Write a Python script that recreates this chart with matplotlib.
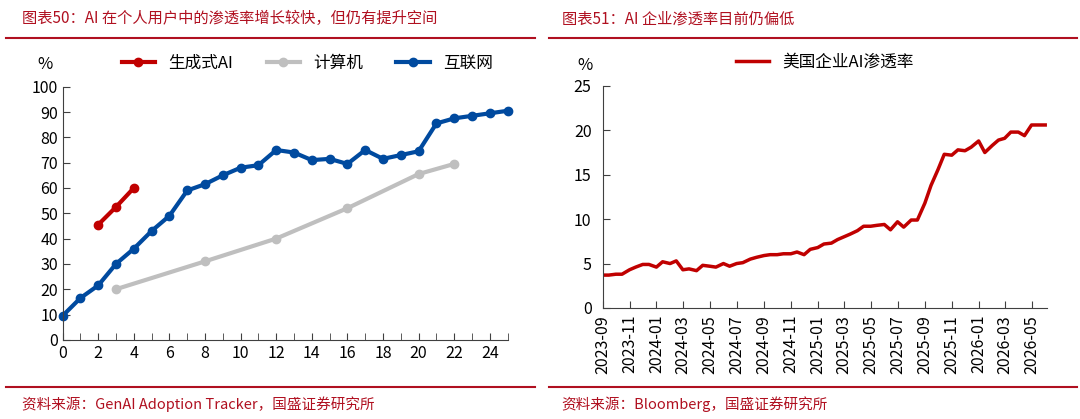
import numpy as np
import pandas as pd
import matplotlib
matplotlib.use("Agg")
import matplotlib.pyplot as plt
import matplotlib.dates as mdates

plt.rcParams['font.family'] = ['Noto Sans CJK SC', 'DejaVu Sans']
plt.rcParams['axes.unicode_minus'] = False

# 左图：个人用户渗透率（%），横轴为推出后年数
genai_x = [2, 3, 4]
genai_y = [45.5, 52.5, 60]
pc_x = [3, 8, 12, 16, 20, 22]
pc_y = [20, 31, 40, 52, 65.5, 69.5]
net_x = list(range(26))
net_y = [9.5, 16.5, 21.5, 30, 36, 43, 49, 59, 61.5, 65, 68, 69, 75, 74, 71,
         71.5, 69.5, 75, 71.5, 73, 74.5, 85.5, 87.5, 88.5, 89.5, 90.5]

# 右图：美国企业AI渗透率（%），半月频
ent_y = [3.7, 3.7, 3.8, 3.8, 4.3, 4.6, 4.9, 4.9, 4.6, 5.2, 5.0, 5.3, 4.3, 4.4,
         4.2, 4.8, 4.7, 4.6, 5.0, 4.7, 5.0, 5.1, 5.5, 5.7, 5.9, 6.0, 6.0, 6.1,
         6.1, 6.3, 6.0, 6.6, 6.8, 7.2, 7.3, 7.7, 8.0, 8.3, 8.7, 9.2, 9.2, 9.3,
         9.4, 8.8, 9.7, 9.1, 9.9, 9.9, 11.8, 13.8, 15.6, 17.3, 17.2, 17.8, 17.7,
         18.1, 18.8, 17.5, 18.3, 18.9, 19.1, 19.8, 19.8, 19.4, 20.6, 20.6, 20.6]
ent_dates = pd.date_range("2023-09-01", periods=len(ent_y), freq="SMS")

RED = "#c00000"
BLUE = "#004a9f"
GREY = "#bfbfbf"
TITLE_C = "#b01020"

fig = plt.figure(figsize=(10.8, 4.19), dpi=100)

# 标题与来源
fig.text(0.02, 0.955, "图表50：AI 在个人用户中的渗透率增长较快，但仍有提升空间",
         color=TITLE_C, fontsize=11, style="italic", va="center")
fig.text(0.52, 0.955, "图表51：AI 企业渗透率目前仍偏低",
         color=TITLE_C, fontsize=11, style="italic", va="center")
fig.add_artist(plt.Line2D([0.006, 0.495], [0.91, 0.91], color=TITLE_C, lw=1.5))
fig.add_artist(plt.Line2D([0.508, 0.997], [0.91, 0.91], color=TITLE_C, lw=1.5))
fig.add_artist(plt.Line2D([0.006, 0.495], [0.077, 0.077], color=TITLE_C, lw=1.5))
fig.add_artist(plt.Line2D([0.508, 0.997], [0.077, 0.077], color=TITLE_C, lw=1.5))
fig.text(0.02, 0.035, "资料来源：GenAI Adoption Tracker，国盛证券研究所",
         color=TITLE_C, fontsize=10.5, style="italic", va="center")
fig.text(0.52, 0.035, "资料来源：Bloomberg，国盛证券研究所",
         color=TITLE_C, fontsize=10.5, style="italic", va="center")

# 左图
ax1 = fig.add_axes([0.058, 0.189, 0.412, 0.604])
ax1.plot(genai_x, genai_y, color=RED, lw=3, marker="o", ms=6, label="生成式AI", clip_on=False)
ax1.plot(pc_x, pc_y, color=GREY, lw=3, marker="o", ms=6, label="计算机", clip_on=False)
ax1.plot(net_x, net_y, color=BLUE, lw=3, marker="o", ms=6, label="互联网", clip_on=False)
ax1.set_xlim(0, 25)
ax1.set_ylim(0, 100)
ax1.set_xticks(range(0, 26, 2))
ax1.set_xticks(range(0, 26), minor=True)
ax1.set_yticks(range(0, 101, 10))
ax1.text(-0.04, 1.07, "%", transform=ax1.transAxes, fontsize=12, ha="center")
ax1.legend(loc="lower center", bbox_to_anchor=(0.55, 1.0), ncol=3, frameon=False,
           fontsize=12, handlelength=2, columnspacing=2)

# 右图
ax2 = fig.add_axes([0.558, 0.265, 0.411, 0.530])
ax2.plot(ent_dates, ent_y, color=RED, lw=2.5, label="美国企业AI渗透率")
ax2.set_xlim(pd.Timestamp("2023-09-01"), ent_dates[-1] + pd.Timedelta(days=3))
ax2.set_ylim(0, 25)
ax2.set_yticks(range(0, 26, 5))
ax2.xaxis.set_major_locator(mdates.MonthLocator(bymonth=[1, 3, 5, 7, 9, 11]))
ax2.xaxis.set_major_formatter(mdates.DateFormatter("%Y-%m"))
plt.setp(ax2.get_xticklabels(), rotation=90)
ax2.text(-0.04, 1.07, "%", transform=ax2.transAxes, fontsize=12, ha="center")
ax2.legend(loc="lower center", bbox_to_anchor=(0.5, 1.0), frameon=False,
           fontsize=12, handlelength=2)

for ax in (ax1, ax2):
    for s in ("top", "right"):
        ax.spines[s].set_visible(False)
    for s in ("left", "bottom"):
        ax.spines[s].set_color("#404040")
    ax.tick_params(labelsize=11.5, direction="in", length=5, color="#404040")
    ax.tick_params(which="minor", direction="in", length=5, color="#404040")
ax2.tick_params(axis="y", pad=8)
ax2.tick_params(axis="x", pad=5)

fig.savefig("out.png", dpi=100)
